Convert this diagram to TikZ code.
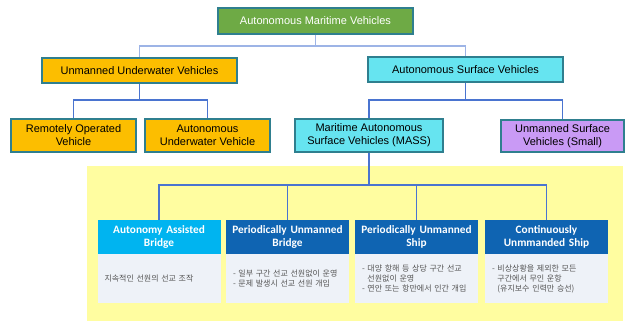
\documentclass[tikz,border=0pt]{standalone}
\usepackage{fontspec}
\setmainfont{Liberation Sans}
\newfontfamily\hdrfont{Carlito}
\newfontfamily\korfont{Noto Sans CJK KR}

\definecolor{amvgreen}{HTML}{6EAA45}
\definecolor{uuvgold}{HTML}{FCBE00}
\definecolor{asvcyan}{HTML}{66E4F0}
\definecolor{usvpurple}{HTML}{C99AF5}
\definecolor{boxborder}{HTML}{2F7F8F}
\definecolor{connblue}{HTML}{4A74D0}
\definecolor{connlight}{HTML}{9DB4E6}
\definecolor{zoneyellow}{HTML}{FFFDA0}
\definecolor{hdrcyan}{HTML}{00B4F0}
\definecolor{hdrblue}{HTML}{0F64B2}
\definecolor{bodygray}{HTML}{EEF2F8}
\definecolor{bodytext}{HTML}{555555}

\begin{document}
\begin{tikzpicture}[x=1pt,y=-1pt]
	    \tikzstyle{every node}+=[inner sep=0pt]
	    \tikzstyle{vbox}=[draw=boxborder, line width=1.3pt, align=center, font=\fontsize{11}{13}\selectfont]
	    \tikzstyle{conn}=[draw=connblue, line width=1.2pt]
	    \tikzstyle{connlt}=[draw=connlight, line width=1.2pt]
	    \tikzstyle{hdr}=[fill=hdrblue, text=white, align=center, minimum width=123pt, minimum height=33.5pt, text width=118pt, font=\hdrfont\bfseries\fontsize{11.3}{13}\selectfont]
	    \tikzstyle{body}=[fill=bodygray, text=bodytext, align=left, minimum width=123pt, minimum height=49.5pt, text width=109pt, font=\korfont\fontsize{8}{10}\selectfont]
	    \useasboundingbox (0,0) rectangle (626,322);
	    \fill [zoneyellow] (87,166) rectangle (623,321);
	    \node [vbox, fill=amvgreen, text=white, minimum width=195pt, minimum height=26pt] (amv) at (315.5,21) {Autonomous Maritime Vehicles};
	    \node [vbox, fill=uuvgold, minimum width=195pt, minimum height=25pt] (uuv) at (139.5,70.5) {Unmanned Underwater Vehicles};
	    \node [vbox, fill=asvcyan, minimum width=195pt, minimum height=25pt] (asv) at (465.5,69.5) {Autonomous Surface Vehicles};
	    \node [vbox, fill=uuvgold, minimum width=125pt, minimum height=33pt] (rov) at (73.5,135.5) {Remotely Operated\\Vehicle};
	    \node [vbox, fill=uuvgold, minimum width=125pt, minimum height=33pt] (auv) at (207.5,135.5) {Autonomous\\Underwater Vehicle};
	    \node [vbox, fill=asvcyan, minimum width=148pt, minimum height=33pt] (mass) at (369,135.5) {Maritime Autonomous\\Surface Vehicles (MASS)};
	    \node [vbox, fill=usvpurple, minimum width=123pt, minimum height=32pt] (usv) at (562.5,136) {Unmanned Surface\\Vehicles (Small)};
	    \node [hdr, fill=hdrcyan] (aab) at (159,236.75) {Autonomy Assisted\\Bridge};
	    \node [hdr] (pub) at (287.5,236.75) {Periodically Unmanned\\Bridge};
	    \node [hdr] (pus) at (416.5,236.75) {Periodically Unmanned\\Ship};
	    \node [hdr] (cus) at (546.5,236.75) {Continuously\\Unmmanded Ship};
	    \node [body, anchor=north] (aabtxt) at (aab.south) {지속적인 선원의 선교 조작};
	    \node [body, anchor=north] (pubtxt) at (pub.south) {- 일부 구간 선교 선원없이 운영\\- 문제 발생시 선교 선원 개입};
	    \node [body, anchor=north] (pustxt) at (pus.south) {- 대양 항해 등 상당 구간 선교\\\phantom{- }선원없이 운영\\- 연안 또는 항만에서 인간 개입};
	    \node [body, anchor=north] (custxt) at (cus.south) {- 비상상황을 제외한 모든\\\phantom{- }구간에서 무인 운항\\\phantom{- }(유지보수 인력만 승선)};
	    \coordinate (j0) at (315.5,46);
	    \coordinate (j1) at (139.5,100);
	    \coordinate (j2) at (465.5,100);
	    \coordinate (j3) at (369,185);
	    \draw [connlt] (amv.south) -- (j0) -| (uuv.north);
	    \draw [connlt] (j0) -| (asv.north);
	    \draw [conn] (uuv.south) -- (j1) -| (rov.north);
	    \draw [conn] (j1) -| (auv.north);
	    \draw [conn] (asv.south) -- (j2) -| (mass.north);
	    \draw [conn] (j2) -| (usv.north);
	    \draw [conn] (mass.south) -- (j3) -| (aab.north);
	    \draw [conn] (j3) -| (pub.north);
	    \draw [conn] (j3) -| (pus.north);
	    \draw [conn] (j3) -| (cus.north);
    \end{tikzpicture}
\end{document}
